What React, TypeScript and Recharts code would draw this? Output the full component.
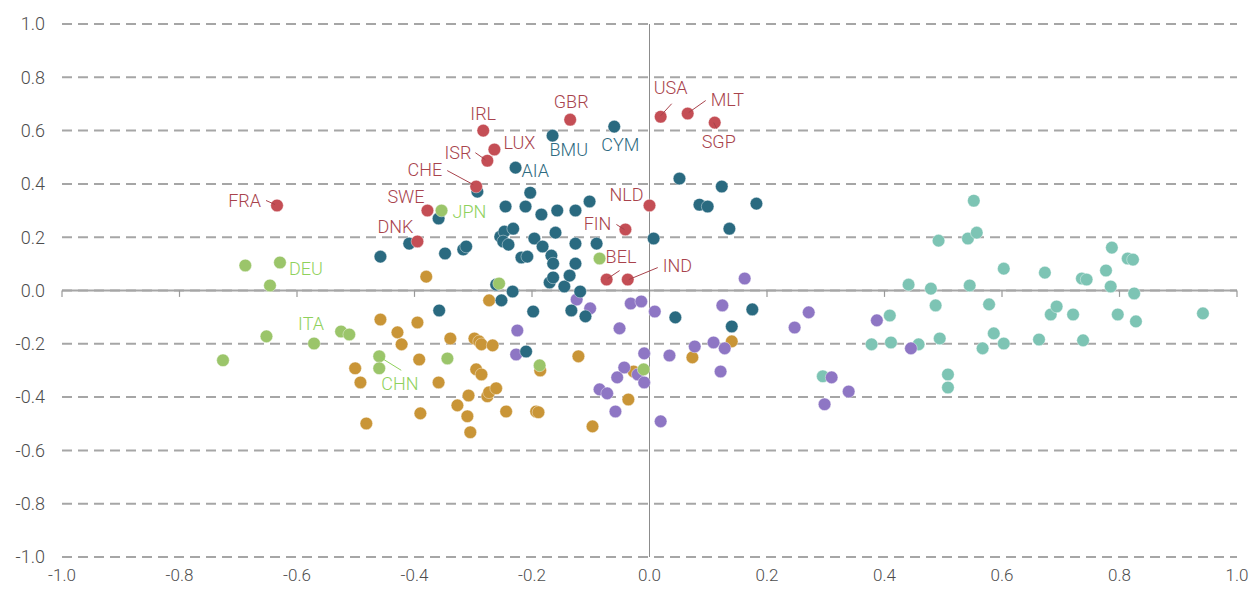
import { ScatterChart, Scatter, XAxis, YAxis, CartesianGrid, ReferenceLine } from 'recharts';

type Pt = { x: number; y: number; code?: string };

const xTicks = [-1, -0.8, -0.6, -0.4, -0.2, 0, 0.2, 0.4, 0.6, 0.8, 1];
const yTicks = [-1, -0.8, -0.6, -0.4, -0.2, 0, 0.2, 0.4, 0.6, 0.8, 1];

const redPoints: Pt[] = [
  { x: -0.634, y: 0.319, code: 'FRA' },
  { x: -0.395, y: 0.184, code: 'DNK' },
  { x: -0.378, y: 0.3, code: 'SWE' },
  { x: -0.295, y: 0.39, code: 'CHE' },
  { x: -0.276, y: 0.487, code: 'ISR' },
  { x: -0.283, y: 0.6, code: 'IRL' },
  { x: -0.264, y: 0.529, code: 'LUX' },
  { x: -0.135, y: 0.641, code: 'GBR' },
  { x: 0.019, y: 0.652, code: 'USA' },
  { x: 0.065, y: 0.664, code: 'MLT' },
  { x: 0.111, y: 0.63, code: 'SGP' },
  { x: 0.0, y: 0.319, code: 'NLD' },
  { x: -0.041, y: 0.229, code: 'FIN' },
  { x: -0.073, y: 0.041, code: 'BEL' },
  { x: -0.037, y: 0.041, code: 'IND' },
];

const bluePoints: Pt[] = [
  { x: -0.165, y: 0.581, code: 'BMU' },
  { x: -0.06, y: 0.615, code: 'CYM' },
  { x: -0.228, y: 0.461, code: 'AIA' },
  { x: -0.293, y: 0.371 }, { x: -0.203, y: 0.367 }, { x: -0.245, y: 0.315 },
  { x: -0.211, y: 0.315 }, { x: -0.184, y: 0.285 }, { x: -0.157, y: 0.3 },
  { x: -0.126, y: 0.3 }, { x: -0.102, y: 0.334 }, { x: -0.359, y: 0.27 },
  { x: -0.409, y: 0.176 }, { x: -0.458, y: 0.127 }, { x: -0.348, y: 0.139 },
  { x: -0.317, y: 0.154 }, { x: -0.312, y: 0.165 }, { x: -0.254, y: 0.202 },
  { x: -0.247, y: 0.221 }, { x: -0.232, y: 0.232 }, { x: -0.249, y: 0.184 },
  { x: -0.24, y: 0.172 }, { x: -0.196, y: 0.195 }, { x: -0.182, y: 0.165 },
  { x: -0.16, y: 0.217 }, { x: -0.126, y: 0.176 }, { x: -0.09, y: 0.176 },
  { x: -0.218, y: 0.124 }, { x: -0.208, y: 0.127 }, { x: -0.167, y: 0.131 },
  { x: -0.164, y: 0.101 }, { x: -0.126, y: 0.101 }, { x: -0.17, y: 0.03 },
  { x: -0.164, y: 0.049 }, { x: -0.145, y: 0.015 }, { x: -0.136, y: 0.056 },
  { x: -0.118, y: -0.004 }, { x: -0.261, y: 0.022 }, { x: -0.233, y: -0.004 },
  { x: -0.252, y: -0.037 }, { x: -0.358, y: -0.075 }, { x: -0.198, y: -0.079 },
  { x: -0.133, y: -0.075 }, { x: -0.109, y: -0.097 }, { x: -0.21, y: -0.229 },
  { x: 0.007, y: 0.195 }, { x: 0.051, y: 0.42 }, { x: 0.123, y: 0.39 },
  { x: 0.085, y: 0.322 }, { x: 0.099, y: 0.315 }, { x: 0.182, y: 0.326 },
  { x: 0.136, y: 0.232 }, { x: 0.044, y: -0.101 }, { x: 0.14, y: -0.135 },
  { x: 0.175, y: -0.071 },
];

const greenPoints: Pt[] = [
  { x: -0.688, y: 0.094 },
  { x: -0.629, y: 0.105, code: 'DEU' },
  { x: -0.646, y: 0.019 },
  { x: -0.354, y: 0.3, code: 'JPN' },
  { x: -0.256, y: 0.026 },
  { x: -0.085, y: 0.12 },
  { x: -0.726, y: -0.262 },
  { x: -0.652, y: -0.172 },
  { x: -0.571, y: -0.199, code: 'ITA' },
  { x: -0.525, y: -0.154 },
  { x: -0.511, y: -0.165 },
  { x: -0.46, y: -0.247, code: 'CHN' },
  { x: -0.46, y: -0.292 },
  { x: -0.344, y: -0.255 },
  { x: -0.187, y: -0.281 },
  { x: -0.01, y: -0.296 },
];

const orangePoints: Pt[] = [
  { x: -0.458, y: -0.109 }, { x: -0.395, y: -0.12 }, { x: -0.429, y: -0.157 },
  { x: -0.422, y: -0.202 }, { x: -0.339, y: -0.18 }, { x: -0.298, y: -0.18 },
  { x: -0.29, y: -0.191 }, { x: -0.286, y: -0.202 }, { x: -0.267, y: -0.206 },
  { x: -0.392, y: -0.259 }, { x: -0.295, y: -0.296 }, { x: -0.286, y: -0.315 },
  { x: -0.501, y: -0.292 }, { x: -0.492, y: -0.345 }, { x: -0.359, y: -0.345 },
  { x: -0.308, y: -0.394 }, { x: -0.276, y: -0.397 }, { x: -0.273, y: -0.382 },
  { x: -0.261, y: -0.367 }, { x: -0.327, y: -0.431 }, { x: -0.31, y: -0.472 },
  { x: -0.305, y: -0.532 }, { x: -0.244, y: -0.454 }, { x: -0.193, y: -0.454 },
  { x: -0.189, y: -0.457 }, { x: -0.39, y: -0.461 }, { x: -0.482, y: -0.499 },
  { x: -0.273, y: -0.037 }, { x: -0.186, y: -0.3 }, { x: -0.38, y: 0.052 },
  { x: -0.121, y: -0.247 }, { x: -0.027, y: -0.304 }, { x: -0.036, y: -0.409 },
  { x: 0.073, y: -0.251 }, { x: 0.14, y: -0.191 }, { x: -0.097, y: -0.51 },
];

const purplePoints: Pt[] = [
  { x: 0.162, y: 0.045 }, { x: -0.124, y: -0.034 }, { x: -0.101, y: -0.067 },
  { x: -0.032, y: -0.049 }, { x: -0.014, y: -0.041 }, { x: 0.009, y: -0.079 },
  { x: 0.124, y: -0.056 }, { x: -0.051, y: -0.142 }, { x: 0.077, y: -0.21 },
  { x: 0.109, y: -0.195 }, { x: 0.128, y: -0.217 }, { x: 0.034, y: -0.244 },
  { x: -0.009, y: -0.236 }, { x: -0.043, y: -0.289 }, { x: -0.055, y: -0.326 },
  { x: -0.02, y: -0.315 }, { x: -0.009, y: -0.345 }, { x: -0.085, y: -0.371 },
  { x: -0.072, y: -0.386 }, { x: -0.058, y: -0.454 }, { x: 0.019, y: -0.491 },
  { x: 0.121, y: -0.304 }, { x: 0.247, y: -0.139 }, { x: 0.271, y: -0.082 },
  { x: 0.387, y: -0.112 }, { x: 0.445, y: -0.217 }, { x: 0.31, y: -0.326 },
  { x: 0.339, y: -0.379 }, { x: 0.298, y: -0.427 }, { x: -0.225, y: -0.15 },
  { x: -0.227, y: -0.24 },
];

const tealPoints: Pt[] = [
  { x: 0.552, y: 0.337 }, { x: 0.492, y: 0.187 }, { x: 0.542, y: 0.195 },
  { x: 0.557, y: 0.217 }, { x: 0.603, y: 0.082 }, { x: 0.673, y: 0.067 },
  { x: 0.736, y: 0.045 }, { x: 0.744, y: 0.041 }, { x: 0.777, y: 0.075 },
  { x: 0.787, y: 0.161 }, { x: 0.814, y: 0.12 }, { x: 0.823, y: 0.116 },
  { x: 0.785, y: 0.015 }, { x: 0.825, y: -0.011 }, { x: 0.441, y: 0.022 },
  { x: 0.479, y: 0.007 }, { x: 0.545, y: 0.019 }, { x: 0.487, y: -0.056 },
  { x: 0.578, y: -0.052 }, { x: 0.409, y: -0.094 }, { x: 0.683, y: -0.09 },
  { x: 0.693, y: -0.06 }, { x: 0.721, y: -0.09 }, { x: 0.797, y: -0.09 },
  { x: 0.828, y: -0.116 }, { x: 0.942, y: -0.086 }, { x: 0.378, y: -0.202 },
  { x: 0.411, y: -0.195 }, { x: 0.458, y: -0.202 }, { x: 0.494, y: -0.18 },
  { x: 0.586, y: -0.161 }, { x: 0.603, y: -0.199 }, { x: 0.567, y: -0.217 },
  { x: 0.663, y: -0.184 }, { x: 0.738, y: -0.187 }, { x: 0.508, y: -0.315 },
  { x: 0.508, y: -0.364 }, { x: 0.295, y: -0.322 },
];

const FONT = 'Roboto, "Open Sans", sans-serif';

// label placement in pixels relative to the dot: text offset, anchor, optional leader line
const labelPlace: Record<string, { dx: number; dy: number; anchor: string; line?: number[] }> = {
  FRA: { dx: -16, dy: -5, anchor: 'end', line: [-11, -5, -2, -1] },
  DNK: { dx: -4, dy: -15, anchor: 'end' },
  SWE: { dx: -3, dy: -14, anchor: 'end' },
  CHE: { dx: -34, dy: -17, anchor: 'end', line: [-29, -16, -3, -2] },
  ISR: { dx: -16, dy: -8, anchor: 'end', line: [-12, -8, -2, -1] },
  IRL: { dx: 0, dy: -17, anchor: 'middle' },
  LUX: { dx: 9, dy: -7, anchor: 'start' },
  GBR: { dx: 1, dy: -18, anchor: 'middle' },
  USA: { dx: 10, dy: -29, anchor: 'middle', line: [11, -13, 0, -1] },
  MLT: { dx: 23, dy: -14, anchor: 'start', line: [18, -13, 1, -1] },
  SGP: { dx: 4, dy: 19, anchor: 'middle', line: [2, 6, -1, 0] },
  NLD: { dx: -6, dy: -11, anchor: 'end' },
  FIN: { dx: -14, dy: -6, anchor: 'end', line: [-9, -5, -1, 0] },
  BEL: { dx: -1, dy: -23, anchor: 'start', line: [13, -9, 1, -1] },
  IND: { dx: 35, dy: -14, anchor: 'start', line: [30, -12, 1, 0] },
  BMU: { dx: -3, dy: 14, anchor: 'start' },
  CYM: { dx: 6, dy: 18, anchor: 'middle' },
  AIA: { dx: 6, dy: 3, anchor: 'start' },
  JPN: { dx: 11, dy: 1, anchor: 'start' },
  DEU: { dx: 9, dy: 6, anchor: 'start' },
  ITA: { dx: -3, dy: -20, anchor: 'middle' },
  CHN: { dx: 2, dy: 27, anchor: 'start', line: [1, 1, 22, 14] },
};

const labelled = [
  ...redPoints.filter((p) => p.code).map((p) => ({ ...p, col: '#A8434C' })),
  ...bluePoints.filter((p) => p.code).map((p) => ({ ...p, col: '#2E6A80' })),
  ...greenPoints.filter((p) => p.code).map((p) => ({ ...p, col: '#8FD15C' })),
];

const dot = (fill: string) => (props: any) => (
  <circle cx={props.cx} cy={props.cy} r={6.3} fill={fill} stroke="#fff" strokeWidth={0.4} />
);

const labelShape = (props: any) => {
  const p = props.payload;
  const pl = labelPlace[p.code];
  if (!pl) return <g />;
  const { cx, cy } = props;
  return (
    <g>
      {pl.line && (
        <line
          x1={cx + pl.line[0]}
          y1={cy + pl.line[1]}
          x2={cx + pl.line[2]}
          y2={cy + pl.line[3]}
          stroke={p.col}
          strokeWidth={1}
        />
      )}
      <text
        x={cx + pl.dx}
        y={cy + pl.dy}
        textAnchor={pl.anchor as any}
        dominantBaseline="central"
        fill={p.col}
        fontSize={18}
        fontWeight={300}
        fontFamily={FONT}
      >
        {p.code}
      </text>
    </g>
  );
};

const fmt = (v: number) => v.toFixed(1);

function App() {
  return (
    <div style={{ position: 'absolute', left: 0, top: 0, background: '#fff' }}>
      <ScatterChart width={1249} height={589} margin={{ top: 24, right: 12, bottom: 0, left: 0 }}>
        <CartesianGrid horizontal vertical={false} stroke="#A6A6A6" strokeWidth={2} strokeDasharray="10 6" />
        <XAxis
          type="number"
          dataKey="x"
          domain={[-1, 1]}
          ticks={xTicks}
          tickFormatter={fmt}
          axisLine={false}
          tickLine={false}
          tickSize={0}
          tickMargin={12}
          height={32}
          interval={0}
          allowDataOverflow
          tick={{ fill: '#4d4d4d', fontSize: 17, fontWeight: 300, fontFamily: FONT }}
        />
        <YAxis
          type="number"
          dataKey="y"
          domain={[-1, 1]}
          ticks={yTicks}
          tickFormatter={fmt}
          axisLine={false}
          tickLine={false}
          tickSize={0}
          tickMargin={17}
          width={62}
          interval={0}
          allowDataOverflow
          tick={{ fill: '#4d4d4d', fontSize: 18, fontWeight: 300, fontFamily: FONT }}
        />
        <ReferenceLine y={0} stroke="#A6A6A6" strokeWidth={2} />
        {xTicks.map((t) => (
          <ReferenceLine
            key={t}
            segment={[{ x: t, y: 0 }, { x: t, y: -0.024 }]}
            stroke="#999"
            strokeWidth={1.2}
          />
        ))}
        <ReferenceLine x={0} stroke="#8C8C8C" strokeWidth={1} />
        <Scatter data={tealPoints} shape={dot('#7DC4B4')} isAnimationActive={false} />
        <Scatter data={orangePoints} shape={dot('#C99537')} isAnimationActive={false} />
        <Scatter data={purplePoints} shape={dot('#8E76C4')} isAnimationActive={false} />
        <Scatter data={bluePoints} shape={dot('#2A6A80')} isAnimationActive={false} />
        <Scatter data={greenPoints} shape={dot('#9BC56A')} isAnimationActive={false} />
        <Scatter data={redPoints} shape={dot('#C44E55')} isAnimationActive={false} />
        <Scatter data={labelled} shape={labelShape} isAnimationActive={false} />
      </ScatterChart>
    </div>
  );
}

export default App;
